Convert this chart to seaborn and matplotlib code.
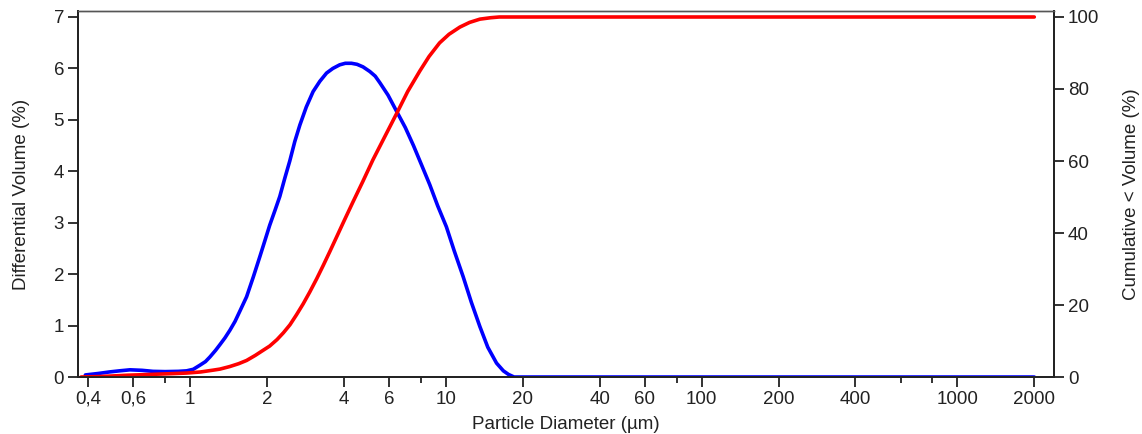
import numpy as np
import pandas as pd
import seaborn as sns
import matplotlib.pyplot as plt
from matplotlib.ticker import FixedLocator, NullFormatter

# particle diameter (um) and differential volume (%)
diff_size = [0.39, 0.44, 0.487, 0.53, 0.583, 0.65, 0.717, 0.8, 0.9, 0.97,
             1.03, 1.094, 1.15, 1.197, 1.26, 1.31, 1.37, 1.433, 1.5, 1.567,
             1.665, 1.77, 1.876, 1.96, 2.05, 2.15, 2.245, 2.35, 2.456, 2.57,
             2.69, 2.85, 3.03, 3.22, 3.42, 3.62, 3.85, 4.05, 4.28, 4.5, 4.75,
             5.05, 5.3, 5.53, 5.95, 6.42, 6.95, 7.48, 8.05, 8.66, 9.3, 10.06,
             10.8, 11.7, 12.6, 13.6, 14.6, 15.8, 16.8, 17.6, 18.5, 20, 40,
             100, 400, 1000, 2000]
diff_vol = [0.04, 0.07, 0.10, 0.12, 0.14, 0.13, 0.11, 0.105, 0.11, 0.12,
            0.15, 0.23, 0.30, 0.39, 0.52, 0.63, 0.76, 0.91, 1.08, 1.28,
            1.56, 1.95, 2.34, 2.64, 2.95, 3.24, 3.51, 3.87, 4.20, 4.58,
            4.90, 5.25, 5.55, 5.75, 5.91, 6.00, 6.07, 6.10, 6.10, 6.08, 6.03,
            5.94, 5.85, 5.72, 5.48, 5.17, 4.85, 4.50, 4.12, 3.74, 3.33, 2.92,
            2.45, 1.95, 1.45, 0.98, 0.58, 0.27, 0.12, 0.05, 0.0, 0.0, 0.0,
            0.0, 0.0, 0.0, 0.0]

# cumulative < volume (%)
cum_size = [0.375, 0.45, 0.5, 0.57, 0.66, 0.75, 0.86, 0.97, 1.1, 1.23, 1.31,
            1.43, 1.55, 1.665, 1.8, 1.93, 2.05, 2.19, 2.32, 2.46, 2.61, 2.77,
            2.94, 3.13, 3.32, 3.52, 3.75, 4.0, 4.33, 4.74, 5.19, 5.8, 6.44,
            7.1, 7.92, 8.6, 9.46, 10.3, 11.36, 12.4, 13.6, 15.0, 16.2, 18,
            20, 40, 100, 400, 1000, 2000]
cum_vol = [0.0, 0.15, 0.3, 0.5, 0.65, 0.8, 0.95, 1.1, 1.4, 1.9, 2.2,
           2.9, 3.7, 4.6, 6.0, 7.4, 8.6, 10.4, 12.3, 14.5, 17.3, 20.3,
           23.6, 27.3, 31.0, 34.8, 39.0, 43.3, 48.5, 54.3, 60.3, 67.0, 73.3,
           79.3, 85.0, 89.0, 92.8, 95.2, 97.2, 98.5, 99.4, 99.8, 100, 100,
           100, 100, 100, 100, 100, 100]

xticks = [0.4, 0.6, 1, 2, 4, 6, 10, 20, 40, 60, 100, 200, 400, 1000, 2000]
xticklabels = ["0,4", "0,6", "1", "2", "4", "6", "10", "20", "40", "60", "100",
               "200", "400", "1000", "2000"]
xminor = [0.8, 8, 80, 600, 800]

diff_df = pd.DataFrame({"size": diff_size, "vol": diff_vol})
cum_df = pd.DataFrame({"size": cum_size, "vol": cum_vol})

sns.set_theme(style="ticks")
plt.rcParams["font.family"] = ["Liberation Sans", "DejaVu Sans"]
plt.rcParams["text.color"] = "#222222"
plt.rcParams["axes.labelcolor"] = "#222222"
plt.rcParams["xtick.color"] = "#222222"
plt.rcParams["ytick.color"] = "#222222"

fig = plt.figure(figsize=(11.42, 4.34), dpi=100)
ax = fig.add_axes([0.0683, 0.1313, 0.923 - 0.0683, 0.9747 - 0.1313])
ax2 = ax.twinx()

sns.lineplot(data=diff_df, x="size", y="vol", ax=ax, color="#0000ff", lw=2.6)
sns.lineplot(data=cum_df, x="size", y="vol", ax=ax2, color="#ff0000", lw=2.6)

ax.set_xscale("log")
ax.set_xlim(0.365, 2390)
ax.set_ylim(0, 7.117)
ax2.set_ylim(0, 101.67)

ax.xaxis.set_major_locator(FixedLocator(xticks))
ax.set_xticklabels(xticklabels)
ax.xaxis.set_minor_locator(FixedLocator(xminor))
ax.xaxis.set_minor_formatter(NullFormatter())
ax.set_yticks(range(0, 8))
ax2.set_yticks(range(0, 101, 20))

for a in (ax, ax2):
    for sp in a.spines.values():
        sp.set_visible(True)
        sp.set_linewidth(1.3)
        sp.set_color("#222222")
    a.spines["top"].set_color("#555555")
    a.spines["top"].set_linewidth(1.0)
ax.tick_params(axis="both", which="major", length=7, width=1.3, labelsize=13.5, pad=3)
ax.tick_params(axis="x", which="minor", length=4, width=1.3)
ax2.tick_params(axis="y", which="major", length=7, width=1.3, labelsize=13.5, pad=3)

ax.set_xlabel("Particle Diameter (\u00b5m)", fontsize=13.5, labelpad=6)
ax.set_ylabel("Differential Volume (%)", fontsize=13.5, labelpad=17)
ax2.set_ylabel("Cumulative < Volume (%)", fontsize=13.5, labelpad=17)

fig.savefig("out.png", dpi=100)
